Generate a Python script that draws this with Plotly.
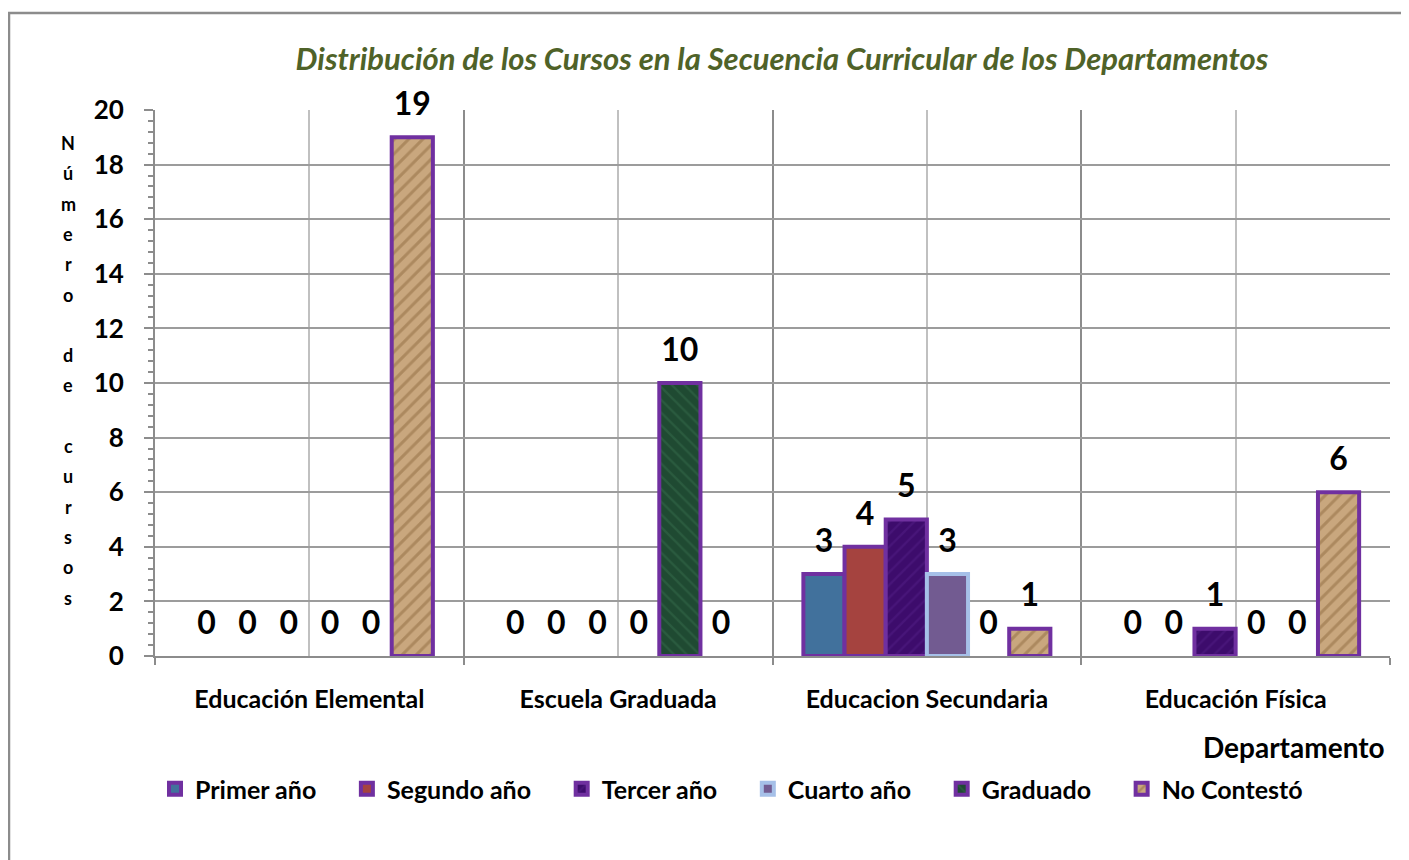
import plotly.graph_objects as go

departamentos = ['Educación Elemental', 'Escuela Graduada', 'Educacion Secundaria', 'Educación Física']
series = ['Primer año', 'Segundo año', 'Tercer año', 'Cuarto año', 'Graduado', 'No Contestó']
primer = [0, 0, 3, 0]
segundo = [0, 0, 4, 0]
tercer = [0, 0, 5, 1]
cuarto = [0, 0, 3, 0]
graduado = [0, 10, 0, 0]
no_contesto = [19, 0, 1, 6]
valores = [primer, segundo, tercer, cuarto, graduado, no_contesto]

fills = ['#41719c', '#a5433f', '#3d0c6c', '#725b91', '#1f4a32', '#c9a77e']
borders = ['#7030a0', '#7030a0', '#7030a0', '#a6c0e8', '#7030a0', '#7030a0']
# rough stand-ins for the textured fills (paper, marble, etc.)
patterns = [None, None,
            dict(shape='/', fgcolor='#5a2590', fgopacity=0.35, size=9, solidity=0.25),
            None,
            dict(shape='\\', fgcolor='#3f7a55', fgopacity=0.35, size=9, solidity=0.25),
            dict(shape='/', fgcolor='#8a6438', fgopacity=0.45, size=10, solidity=0.3)]

FONT = 'Lato'
OFF = 8  # page body margin
FW, FH = 1409 - OFF, 860 - OFF

# plot area in page pixels, used to place paper-coordinate extras
L, R, T, B = 155, 1390, 110, 656
W, H = R - L, B - T


def px_x(x):
    return (x - L) / W


def px_y(y):
    return (B - y) / H


fig = go.Figure()
for i, (name, vals, fc, bc, pat) in enumerate(zip(series, valores, fills, borders, patterns)):
    marker = dict(color=fc, line=dict(color=bc, width=4))
    if pat:
        marker['pattern'] = dict(fillmode='overlay', bgcolor=fc, **pat)
    bar_marker = dict(marker)
    bar_marker['line'] = dict(color=bc, width=[4 if v else 0 for v in vals])
    fig.add_trace(go.Bar(
        name=name, x=list(range(len(departamentos))), y=vals,
        offsetgroup=str(i), showlegend=False,
        marker=bar_marker,
        texttemplate='<span style="font-size:32px"><b>%{y}</b></span><br>'
                     '<span style="font-size:3px;fill:rgba(0,0,0,0)">.</span>',
        textposition='outside', constraintext='none',
        textfont=dict(size=14, color='black', family=FONT),
        cliponaxis=False))
    # legend-only twin so every legend key keeps its border
    fig.add_trace(go.Bar(
        name='<b>%s</b>' % name + '\u00a0' * 4, x=[None], y=[None],
        offsetgroup=str(i), showlegend=True, marker=marker, hoverinfo='skip'))

fig.update_layout(
    width=FW, height=FH,
    barmode='group', bargap=0.2, bargroupgap=0,
    plot_bgcolor='white', paper_bgcolor='white',
    margin=dict(l=L - OFF, r=1409 - R, t=T - OFF, b=860 - B),
    font=dict(family=FONT, color='black'),
    title=dict(text='<b><i>Distribución de los Cursos en la Secuencia Curricular de los Departamentos</i></b>',
               font=dict(size=31, color='#4f6228', family=FONT),
               x=px_x(782), xref='paper', xanchor='center', y=1 - (59 - OFF) / FH, yanchor='middle'),
    legend=dict(orientation='h', x=px_x(155), y=px_y(789), xanchor='left', yanchor='middle',
                font=dict(size=25, family=FONT), traceorder='normal'),
    showlegend=True,
)

fig.update_xaxes(
    range=[-0.5, 3.5], tickvals=list(range(len(departamentos))),
    ticktext=['<b>%s</b>' % d for d in departamentos],
    tickfont=dict(size=25, family=FONT), ticks='', ticklabelstandoff=20,
    showgrid=True, gridcolor='#c0c0c0', gridwidth=1.5,
    showline=True, linecolor='#8c8c8c', linewidth=2,
    minor=dict(tick0=0.5, dtick=1, showgrid=True, gridcolor='#8c8c8c', gridwidth=1.5,
               ticks='outside', ticklen=7, tickcolor='#8c8c8c', tickwidth=2),
    zeroline=False)

fig.update_yaxes(
    range=[0, 20], dtick=2, tickformat='d',
    tickfont=dict(size=26, family=FONT), ticklabelstandoff=15,
    ticks='outside', ticklen=9, tickcolor='#8c8c8c', tickwidth=2,
    showgrid=True, gridcolor='#9c9c9c', gridwidth=1.5,
    showline=True, linecolor='#8c8c8c', linewidth=2,
    minor=dict(dtick=0.4, ticks='outside', ticklen=5, tickcolor='#8c8c8c', tickwidth=2),
    zeroline=False)
fig.update_yaxes(tickprefix='<b>', ticksuffix='</b>')

# stacked y-axis title
letras = 'Número de cursos'
ypos = 143
for ch in letras:
    if ch != ' ':
        fig.add_annotation(text='<b>%s</b>' % ch, xref='paper', yref='paper',
                           x=px_x(68), y=px_y(ypos), xanchor='center', yanchor='middle',
                           showarrow=False, font=dict(size=18, family=FONT, color='black'))
    ypos += 30.3

fig.add_annotation(text='<b>Departamento</b>', xref='paper', yref='paper',
                   x=px_x(1387), y=px_y(747), xanchor='right', yanchor='middle',
                   showarrow=False, font=dict(size=28, family=FONT, color='black'))

# outer chart frame
fig.add_shape(type='rect', xref='paper', yref='paper',
              x0=px_x(9), x1=px_x(1440), y0=px_y(900), y1=px_y(13),
              line=dict(color='#8c8c8c', width=2.5), layer='below')

fig.write_html('out.html')
